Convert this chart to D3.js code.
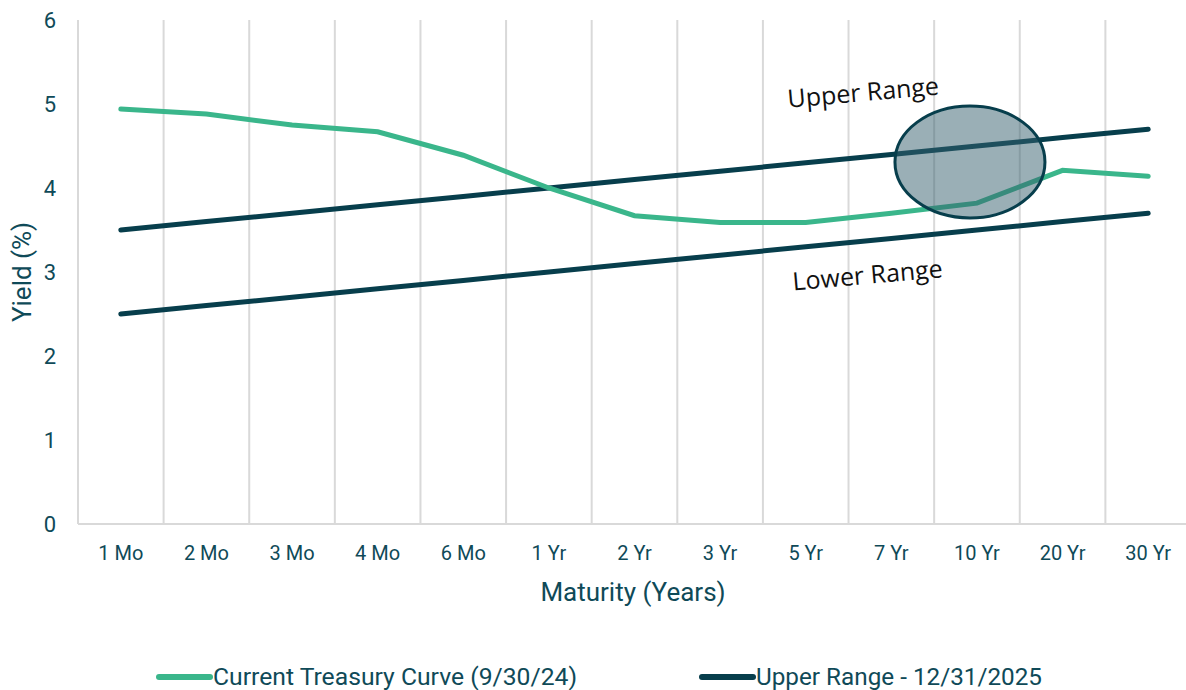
<!DOCTYPE html>
<html>
<head>
<meta charset="utf-8">
<script src="https://cdn.jsdelivr.net/npm/d3@7"></script>
<style>
  body { margin: 0; background: #fff; }
  svg { display: block; }
</style>
</head>
<body>
<svg width="1186" height="690"></svg>
<script>
const width = 1186
const height = 690
const maturities = ["1 Mo","2 Mo","3 Mo","4 Mo","6 Mo","1 Yr","2 Yr","3 Yr","5 Yr","7 Yr","10 Yr","20 Yr","30 Yr"]
const treasury = [4.94, 4.88, 4.75, 4.67, 4.39, 4.0, 3.67, 3.59, 3.59, 3.70, 3.82, 4.21, 4.14]
const upperRange = [3.5, 3.6, 3.7, 3.8, 3.9, 4.0, 4.1, 4.2, 4.3, 4.4, 4.5, 4.6, 4.7]
const lowerRange = [2.5, 2.6, 2.7, 2.8, 2.9, 3.0, 3.1, 3.2, 3.3, 3.4, 3.5, 3.6, 3.7]
const yTicks = [0, 1, 2, 3, 4, 5, 6]

const green = "#3ab68b"
const dark = "#073e4c"
const textCol = "#0f4a58"

const svg = d3.select("svg")
const scaleX = d3.scaleBand().domain(maturities).range([78, 1191])
const scaleY = d3.scaleLinear().domain([0, 6]).range([524, 20])
const cx = d => scaleX(d) + scaleX.bandwidth() / 2

// vertical gridlines
svg.append("g").selectAll("line").data(maturities).enter()
   .append("line")
   .attr("x1", d => scaleX(d)).attr("x2", d => scaleX(d))
   .attr("y1", scaleY(6)).attr("y2", scaleY(0))
   .attr("stroke", "#d9d9d9").attr("stroke-width", 2)
svg.append("line")
   .attr("x1", 78).attr("x2", 1191).attr("y1", scaleY(0)).attr("y2", scaleY(0))
   .attr("stroke", "#d9d9d9").attr("stroke-width", 2)

// y tick labels
svg.append("g").selectAll("text").data(yTicks).enter()
   .append("text")
   .attr("x", 50).attr("y", d => scaleY(d) + 8)
   .attr("text-anchor", "middle")
   .attr("font-family", "Roboto").attr("font-size", 22).attr("fill", textCol)
   .text(d => d)

// x tick labels
svg.append("g").selectAll("text").data(maturities).enter()
   .append("text")
   .attr("x", d => cx(d)).attr("y", 560)
   .attr("text-anchor", "middle")
   .attr("font-family", "Roboto").attr("font-size", 20).attr("fill", textCol)
   .text(d => d)

svg.append("text").attr("x", 633).attr("y", 601).attr("text-anchor", "middle")
   .attr("font-family", "Roboto").attr("font-size", 26).attr("fill", textCol)
   .text("Maturity (Years)")
svg.append("text").attr("transform", "translate(31,272) rotate(-90)").attr("text-anchor", "middle")
   .attr("font-family", "Roboto").attr("font-size", 26).attr("fill", textCol)
   .text("Yield (%)")

const line = d3.line().x((d, i) => cx(maturities[i])).y(d => scaleY(d))

svg.append("path").datum(upperRange).attr("d", line)
   .attr("fill", "none").attr("stroke", dark).attr("stroke-width", 5).attr("stroke-linecap", "round")
svg.append("path").datum(lowerRange).attr("d", line)
   .attr("fill", "none").attr("stroke", dark).attr("stroke-width", 5).attr("stroke-linecap", "round")
svg.append("path").datum(treasury).attr("d", line)
   .attr("fill", "none").attr("stroke", green).attr("stroke-width", 5).attr("stroke-linecap", "round")

// annotations
svg.append("ellipse")
   .attr("cx", cx("10 Yr") - 7).attr("cy", scaleY(4.31))
   .attr("rx", 75).attr("ry", 56)
   .attr("fill", "#35606e").attr("fill-opacity", 0.5)
   .attr("stroke", dark).attr("stroke-width", 3)

svg.append("text")
   .attr("transform", "translate(" + (cx("7 Yr") - 103) + "," + (scaleY(4.8) - 13) + ") rotate(-5)")
   .attr("font-family", "Open Sans").attr("font-size", 25).attr("fill", "#111")
   .text("Upper Range")
svg.append("text")
   .attr("transform", "translate(" + (cx("7 Yr") - 98) + "," + (scaleY(2.9) + 10) + ") rotate(-5)")
   .attr("font-family", "Open Sans").attr("font-size", 25).attr("fill", "#111")
   .text("Lower Range")

// legend
const legend = [
  {name: "Current Treasury Curve (9/30/24)", color: green, x: 157, w: 364},
  {name: "Upper Range - 12/31/2025", color: dark, x: 700, w: 286}
]
const lg = svg.append("g").selectAll("g").data(legend).enter().append("g")
lg.append("line")
  .attr("x1", d => d.x + 2).attr("x2", d => d.x + 53).attr("y1", 677).attr("y2", 677)
  .attr("stroke", d => d.color).attr("stroke-width", 6).attr("stroke-linecap", "round")
lg.append("text")
  .attr("x", d => d.x + 56).attr("y", 685)
  .attr("font-family", "Roboto").attr("font-size", 23).attr("fill", textCol)
  .attr("textLength", d => d.w).attr("lengthAdjust", "spacingAndGlyphs")
  .text(d => d.name)
</script>
</body>
</html>
